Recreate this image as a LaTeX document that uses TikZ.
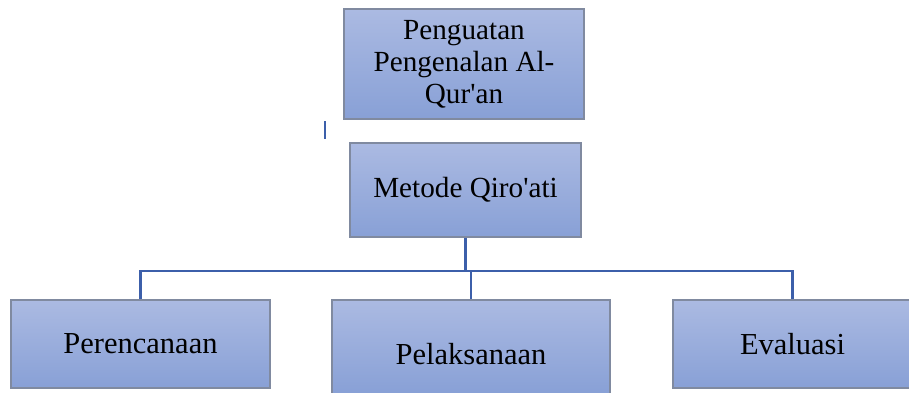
\documentclass[tikz,border=0pt]{standalone}
\usepackage{fontspec}
\setmainfont{Liberation Serif}
\definecolor{boxtop}{RGB}{171,186,226}
\definecolor{boxbot}{RGB}{136,160,214}
\definecolor{boxline}{RGB}{128,138,160}
\definecolor{linkblue}{RGB}{60,95,170}

\begin{document}
\begin{tikzpicture}[x=1pt, y=-1pt,
    block/.style={draw=boxline, line width=1.6pt, top color=boxtop, bottom color=boxbot,
      align=center, inner sep=0pt, font=\fontsize{29.2}{32}\selectfont},
    stepblock/.style={block, font=\fontsize{30.5}{33}\selectfont},
    link/.style={draw=linkblue, line width=2.6pt}]
  \useasboundingbox (0,0) rectangle (909,392);
  % top box
  \node[block, minimum width=240, minimum height=110] (quran) at (464,64)
    {Penguatan\\Pengenalan Al-\\Qur\textquotesingle an};
  % small mark left of the gap
  \coordinate (tickA) at (325,121);
  \coordinate (tickB) at (325,139);
  \draw[link, line width=1.4pt] (tickA) -- (tickB);
  % method box
  \node[block, minimum width=231, minimum height=94] (metode) at (465.5,190)
    {Metode Qiro\textquotesingle ati};
  % three steps
  \node[stepblock, minimum width=259, minimum height=88] (rencana) at (140.5,344) {Perencanaan};
  \node[stepblock, minimum width=278, minimum height=94] (laksana) at (471,347)
    {\raisebox{-10pt}[0.7em][0.2em]{Pelaksanaan}};
  \node[stepblock, minimum width=239, minimum height=88] (evaluasi) at (792.5,344)
    {\raisebox{-3pt}[0.7em][0.2em]{Evaluasi}};
  % tree lines
  \draw[link] (metode.south) -- ++(0,33) coordinate (fork);
  \draw[link] (rencana.north) |- (fork);
  \draw[link] (evaluasi.north) |- (fork);
  \draw[link] (laksana.north) -- (laksana.north |- fork);
\end{tikzpicture}
\end{document}
